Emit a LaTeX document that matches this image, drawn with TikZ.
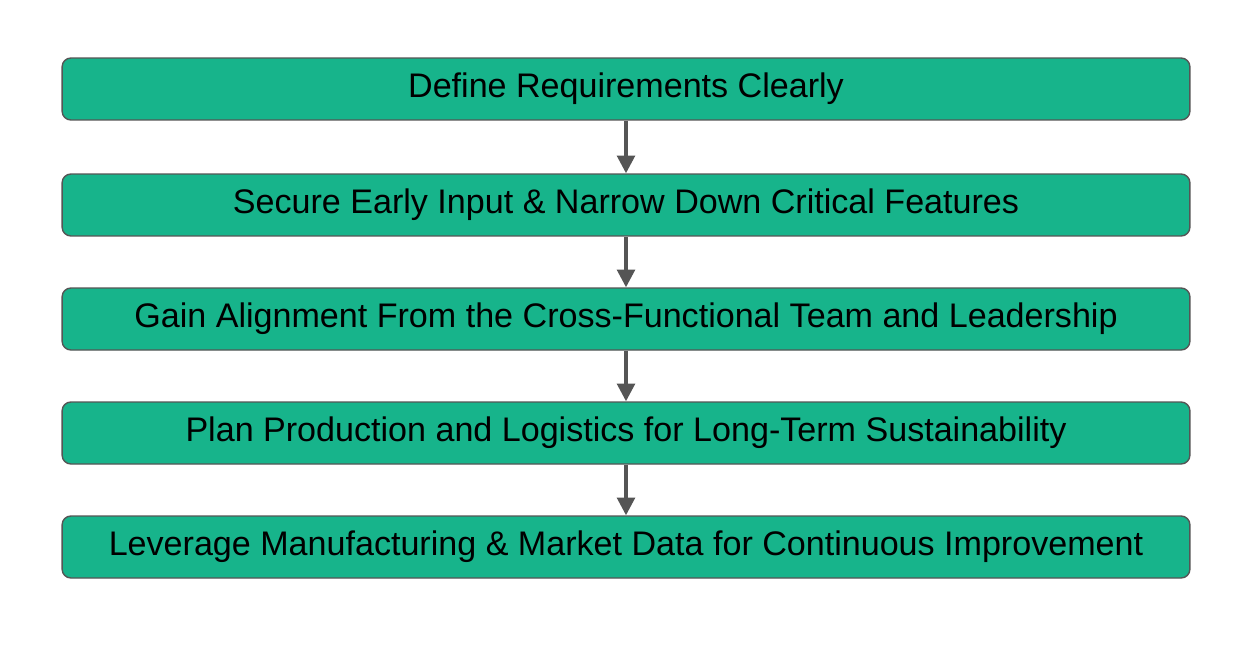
\documentclass[tikz,border=0pt]{standalone}
\usepackage{fontspec}
\setmainfont{Liberation Sans}
\usetikzlibrary{positioning,arrows.meta}
\definecolor{stepgreen}{HTML}{17B48B}
\definecolor{edgegray}{HTML}{555555}
\begin{document}
\begin{tikzpicture}[x=0.02cm,y=-0.02cm,
    stage/.style={draw=edgegray,fill=stepgreen,rounded corners=5pt,line width=0.8pt,
      minimum width=22.56cm,minimum height=1.24cm,font=\fontsize{19.4}{22}\selectfont},
    flow/.style={draw=edgegray,line width=2pt,-{Triangle[length=10pt,width=10pt]}}]
    \useasboundingbox (0,0) rectangle (1237,646);
    \node[stage] (define) at (626,89) {Define Requirements Clearly};
    \node[stage] (secure) at (626,205) {Secure Early Input \& Narrow Down Critical Features};
    \node[stage] (align) at (626,319) {Gain Alignment From the Cross-Functional Team and Leadership};
    \node[stage] (plan) at (626,433) {Plan Production and Logistics for Long-Term Sustainability};
    \node[stage] (leverage) at (626,547) {Leverage Manufacturing \& Market Data for Continuous Improvement};
    \draw[flow] (define) -- (secure);
    \draw[flow] (secure) -- (align);
    \draw[flow] (align) -- (plan);
    \draw[flow] (plan) -- (leverage);
  \end{tikzpicture}
\end{document}
